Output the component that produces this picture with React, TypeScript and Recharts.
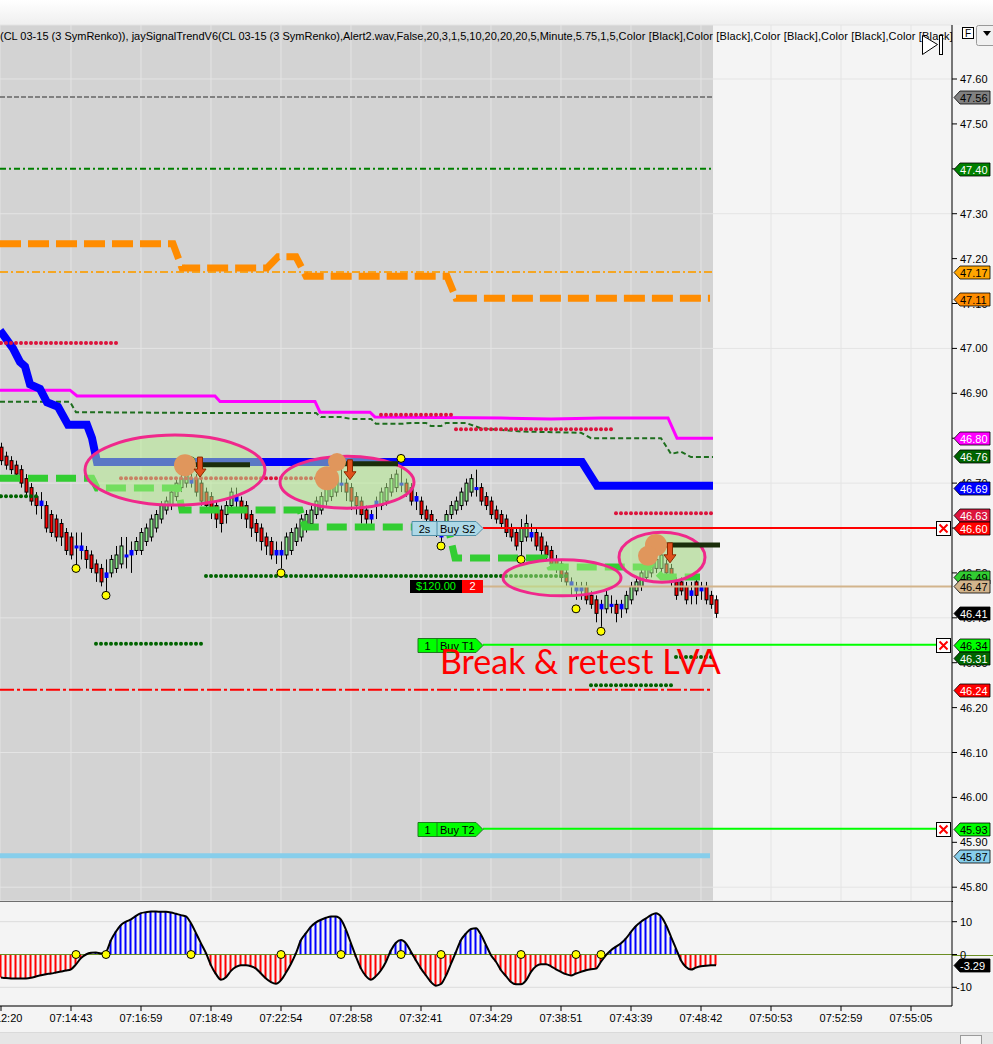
import React from "react";
import {
  Bar,
  CartesianGrid,
  Cell,
  ComposedChart,
  Line,
  ReferenceDot,
  ReferenceLine,
  Scatter,
  XAxis,
  YAxis,
} from "recharts";

const FONT = "'Liberation Sans', Arial, sans-serif";

const titleHead = "(CL 03-15 (3 SymRenko)), jaySignalTrendV6(CL 03-15 (3 SymRenko),Alert2.wav,False,20,3,1,5,10,20,20,20,5,Minute,5.75,1,5,";
const titleTail = "Color [Black],Color [Black],Color [Black],Color [Black],Color [Black],Color [Black])";

// renko bricks: [open, high, low, close]
const bricks: [number, number, number, number][] = [
  [46.78, 46.79, 46.74, 46.75], [46.76, 46.77, 46.73, 46.74], [46.75, 46.76, 46.72, 46.73], [46.74, 46.75, 46.71, 46.72],
  [46.73, 46.74, 46.69, 46.7], [46.71, 46.72, 46.67, 46.68], [46.69, 46.7, 46.65, 46.66], [46.67, 46.68, 46.63, 46.65],
  [46.66, 46.68, 46.62, 46.65], [46.65, 46.66, 46.59, 46.6], [46.63, 46.64, 46.58, 46.59], [46.62, 46.63, 46.57, 46.58],
  [46.61, 46.62, 46.56, 46.58], [46.59, 46.6, 46.54, 46.55], [46.58, 46.59, 46.53, 46.54], [46.56, 46.59, 46.51, 46.56],
  [46.56, 46.59, 46.53, 46.55], [46.55, 46.56, 46.51, 46.53], [46.54, 46.55, 46.5, 46.51], [46.52, 46.53, 46.48, 46.5],
  [46.51, 46.52, 46.47, 46.48], [46.5, 46.53, 46.46, 46.49], [46.5, 46.54, 46.49, 46.53], [46.51, 46.56, 46.5, 46.54],
  [46.52, 46.58, 46.51, 46.56], [46.54, 46.58, 46.51, 46.54], [46.55, 46.57, 46.5, 46.54], [46.55, 46.58, 46.54, 46.57],
  [46.55, 46.6, 46.54, 46.59], [46.57, 46.61, 46.56, 46.6], [46.58, 46.63, 46.57, 46.62], [46.6, 46.64, 46.59, 46.63],
  [46.62, 46.66, 46.61, 46.65], [46.64, 46.67, 46.63, 46.66], [46.65, 46.69, 46.64, 46.68], [46.67, 46.71, 46.66, 46.7],
  [46.69, 46.72, 46.68, 46.71], [46.7, 46.74, 46.69, 46.72], [46.71, 46.74, 46.69, 46.7], [46.71, 46.72, 46.67, 46.68],
  [46.7, 46.71, 46.65, 46.66], [46.68, 46.69, 46.64, 46.65], [46.67, 46.68, 46.62, 46.64], [46.65, 46.66, 46.6, 46.62],
  [46.64, 46.65, 46.59, 46.61], [46.63, 46.66, 46.61, 46.65], [46.65, 46.69, 46.64, 46.68], [46.67, 46.69, 46.64, 46.66],
  [46.66, 46.67, 46.62, 46.64], [46.65, 46.66, 46.6, 46.62], [46.63, 46.64, 46.58, 46.6], [46.61, 46.62, 46.57, 46.59],
  [46.6, 46.61, 46.55, 46.57], [46.58, 46.59, 46.54, 46.56], [46.57, 46.58, 46.53, 46.54], [46.55, 46.57, 46.52, 46.54],
  [46.55, 46.57, 46.51, 46.54], [46.54, 46.59, 46.53, 46.58], [46.55, 46.6, 46.54, 46.59], [46.57, 46.61, 46.56, 46.6],
  [46.58, 46.63, 46.57, 46.62], [46.6, 46.64, 46.59, 46.63], [46.61, 46.65, 46.6, 46.64], [46.63, 46.67, 46.62, 46.66],
  [46.64, 46.68, 46.63, 46.67], [46.66, 46.7, 46.65, 46.69], [46.67, 46.71, 46.66, 46.7], [46.68, 46.72, 46.67, 46.71],
  [46.7, 46.74, 46.68, 46.7], [46.7, 46.71, 46.66, 46.68], [46.69, 46.7, 46.64, 46.66], [46.67, 46.68, 46.63, 46.65],
  [46.66, 46.67, 46.61, 46.63], [46.64, 46.65, 46.6, 46.62], [46.63, 46.64, 46.6, 46.62], [46.66, 46.67, 46.62, 46.65],
  [46.65, 46.69, 46.64, 46.68], [46.66, 46.7, 46.65, 46.69], [46.68, 46.72, 46.67, 46.71], [46.69, 46.73, 46.68, 46.72],
  [46.7, 46.74, 46.68, 46.7], [46.7, 46.71, 46.67, 46.68], [46.69, 46.7, 46.65, 46.66], [46.67, 46.68, 46.64, 46.66],
  [46.66, 46.67, 46.62, 46.63], [46.64, 46.65, 46.61, 46.62], [46.63, 46.64, 46.59, 46.61], [46.61, 46.62, 46.58, 46.59],
  [46.59, 46.6, 46.57, 46.58], [46.61, 46.64, 46.6, 46.63], [46.63, 46.66, 46.62, 46.65], [46.64, 46.67, 46.63, 46.66],
  [46.65, 46.69, 46.64, 46.68], [46.66, 46.71, 46.65, 46.7], [46.68, 46.72, 46.67, 46.71], [46.69, 46.73, 46.67, 46.69],
  [46.69, 46.7, 46.65, 46.66], [46.67, 46.68, 46.64, 46.65], [46.66, 46.67, 46.62, 46.63], [46.64, 46.65, 46.61, 46.62],
  [46.63, 46.64, 46.6, 46.61], [46.62, 46.63, 46.58, 46.59], [46.6, 46.61, 46.57, 46.58], [46.59, 46.6, 46.55, 46.56],
  [46.57, 46.62, 46.54, 46.6], [46.58, 46.63, 46.57, 46.61], [46.59, 46.61, 46.57, 46.58], [46.59, 46.6, 46.55, 46.56],
  [46.58, 46.59, 46.54, 46.55], [46.56, 46.57, 46.53, 46.54], [46.55, 46.56, 46.51, 46.52], [46.53, 46.54, 46.5, 46.51],
  [46.52, 46.53, 46.48, 46.49], [46.5, 46.51, 46.47, 46.48], [46.48, 46.49, 46.45, 46.47], [46.47, 46.48, 46.44, 46.46],
  [46.47, 46.48, 46.44, 46.46], [46.47, 46.48, 46.43, 46.44], [46.45, 46.46, 46.42, 46.43], [46.44, 46.45, 46.39, 46.41],
  [46.43, 46.44, 46.38, 46.42], [46.42, 46.46, 46.41, 46.45], [46.43, 46.45, 46.41, 46.43], [46.43, 46.44, 46.39, 46.41],
  [46.43, 46.44, 46.4, 46.42], [46.42, 46.46, 46.41, 46.45], [46.44, 46.48, 46.43, 46.47], [46.46, 46.49, 46.45, 46.48],
  [46.47, 46.51, 46.46, 46.5], [46.49, 46.52, 46.48, 46.51], [46.5, 46.53, 46.49, 46.52], [46.51, 46.54, 46.5, 46.53],
  [46.51, 46.55, 46.5, 46.54], [46.52, 46.53, 46.49, 46.5], [46.51, 46.52, 46.47, 46.48], [46.48, 46.49, 46.44, 46.45],
  [46.48, 46.49, 46.45, 46.46], [46.47, 46.48, 46.43, 46.44], [46.46, 46.48, 46.43, 46.45], [46.48, 46.49, 46.43, 46.45],
  [46.47, 46.48, 46.44, 46.46], [46.47, 46.48, 46.43, 46.44], [46.45, 46.46, 46.42, 46.43], [46.44, 46.45, 46.4, 46.41],
];

// lower pane oscillator, one value per brick
const oscillator = [
  -7.0, -7.2, -7.3, -7.3, -7.3, -7.3, -7.1, -6.7, -6.3, -6.0,
  -5.8, -5.5, -5.2, -4.9, -4.5, -3.0, -1.1, 0.0, 0.5, 0.6,
  0.3, 0.8, 4.4, 7.0, 9.0, 10.0, 10.7, 11.8, 12.6, 12.9,
  13.1, 13.1, 13.0, 13.0, 12.8, 12.4, 12.0, 11.6, 9.5, 6.5,
  3.4, 0.4, -3.3, -6.0, -7.7, -6.9, -5.0, -3.8, -3.3, -3.3,
  -3.6, -4.3, -5.8, -7.3, -8.4, -8.9, -7.8, -5.5, -2.8, 0.4,
  4.4, 6.5, 8.5, 9.8, 10.6, 11.2, 11.6, 11.6, 10.6, 7.5,
  3.4, -0.7, -4.3, -6.6, -7.7, -6.6, -4.8, -2.2, 1.3, 3.6,
  4.4, 3.4, 0.8, -1.8, -4.3, -6.4, -8.4, -9.5, -9.0, -6.4,
  -2.8, 0.8, 4.4, 6.4, 7.8, 8.0, 6.0, 2.9, -0.2, -2.2,
  -4.8, -6.6, -8.4, -9.1, -9.1, -7.9, -5.3, -3.6, -3.0, -3.0,
  -3.6, -4.5, -5.3, -6.0, -6.4, -5.8, -5.3, -4.8, -4.5, -4.3,
  -2.2, -0.2, 1.3, 2.4, 3.4, 4.9, 6.9, 8.7, 10.0, 11.0,
  12.0, 12.6, 11.6, 9.0, 5.4, 1.8, -1.8, -3.8, -4.6, -4.0,
  -3.6, -3.4, -3.3, -3.29,
];

// swing markers (brick index / price)
const swingBars = [15, 21, 38, 56, 68, 80, 88, 104, 115, 120];
const swingPrices = [46.51, 46.45, 46.75, 46.5, 46.75, 46.755, 46.56, 46.53, 46.42, 46.37];

// time axis
const timeTicks = [0, 14, 28, 42, 56, 70, 84, 98, 112, 126, 140, 154, 168, 182];
const timeLabels = [
  "07:12:20", "07:14:43", "07:16:59", "07:18:49", "07:22:54", "07:28:58", "07:32:41",
  "07:34:29", "07:38:51", "07:43:39", "07:48:42", "07:50:53", "07:52:59", "07:55:05",
];

const priceTicks = [45.8, 45.9, 46.0, 46.1, 46.2, 46.3, 46.4, 46.5, 46.6, 46.7, 46.8, 46.9, 47.0, 47.1, 47.2, 47.3, 47.4, 47.5, 47.6];
const priceGrid = [45.8, 46.1, 46.4, 46.7, 47.0, 47.3, 47.6];
const oscTicks = [-10, 0, 10];

// indicator step lines, vertices as [brick, price]
const blueTrend: [number, number][] = [
  [-0.2, 47.04], [2.4, 47.0], [3.8, 46.97], [4.8, 46.96], [5.8, 46.92], [7.8, 46.91], [9.2, 46.88],
  [11.4, 46.87], [13.4, 46.83], [17.2, 46.83], [18.2, 46.8], [19.2, 46.747], [116.2, 46.747],
  [119.2, 46.694], [142.4, 46.694],
];
const magentaBand: [number, number][] = [
  [-0.2, 46.907], [13.8, 46.907], [15.2, 46.894], [42.8, 46.894], [43.8, 46.882], [62.8, 46.882],
  [63.8, 46.858], [73.8, 46.858], [74.8, 46.847], [100, 46.845], [110, 46.843], [120, 46.845],
  [133.4, 46.845], [135.2, 46.8], [142.4, 46.8],
];
const greenBand: [number, number][] = [
  [-0.2, 46.881], [13.8, 46.881], [15, 46.858], [43, 46.856], [63, 46.856], [64, 46.847], [68, 46.847],
  [70, 46.843], [74, 46.843], [75, 46.832], [80, 46.832], [82, 46.834], [85, 46.834], [86, 46.827],
  [88, 46.827], [89, 46.834], [93, 46.834], [96, 46.822], [104, 46.815], [116, 46.812], [118, 46.8],
  [132, 46.8], [134, 46.765], [136, 46.77], [138, 46.758], [142.4, 46.758],
];
const orangeStop: [number, number][] = [
  [-0.2, 47.233], [34.4, 47.233], [36.2, 47.179], [53.2, 47.179], [55.4, 47.204], [59, 47.204],
  [61, 47.161], [89.2, 47.161], [91, 47.112], [141.8, 47.112],
];
const limeStop: [number, number][] = [
  [-0.2, 46.711], [18.2, 46.711], [19.2, 46.689], [35.4, 46.689], [36.2, 46.64], [59.8, 46.64],
  [60.8, 46.602], [89.4, 46.602], [90.8, 46.533], [108.8, 46.533], [109.8, 46.513], [130.2, 46.513],
  [132.2, 46.491], [139.8, 46.491],
];

// dotted pivots: [first brick, last brick, price]
const redDotRuns: [number, number, number][] = [
  [0, 23, 47.012], [24, 67, 46.711], [76, 90, 46.852], [91, 122, 46.82], [123, 142, 46.633],
];
const greenDotRuns: [number, number, number][] = [
  [0, 7, 46.671], [19, 40, 46.342], [41, 113, 46.493], [118, 134, 46.25], [135, 142, 46.313],
];

// price levels on the right scale
const flagPrices = [47.56, 47.4, 47.17, 47.11, 46.8, 46.76, 46.69, 46.63, 46.6, 46.49, 46.47, 46.41, 46.34, 46.31, 46.24, 45.93, 45.87];
const lastOsc = -3.29;

// orders / position
const stopPrice = 46.6;
const entryPrice = 46.47;
const target1 = 46.34;
const target2 = 45.93;

const PRICE_DOMAIN: [number, number] = [45.7693, 47.7203];
const OSC_DOMAIN: [number, number] = [-15.7, 16.31];
const BAR_DOMAIN: [number, number] = [-0.2, 190.2];

const rows = bricks.map(([o, h, l, c], i) => ({ i, o, h, l, c, osc: oscillator[i] }));
const pts = (v: [number, number][]) => v.map(([i, p]) => ({ i, p }));
const flat = (a: number, b: number, p: number) => [{ i: a, p }, { i: b, p }];
const runs = (r: [number, number, number][]) =>
  r.flatMap(([a, b, p]) => Array.from({ length: b - a + 1 }, (_, k) => ({ i: a + k, p })));
const swings = swingBars.map((i, k) => ({ i, p: swingPrices[k], v: 0 }));

const flagStyles: Record<string, [string, string, boolean?]> = {
  "47.56": ["#808080", "#000"],
  "47.40": ["#008000", "#fff"],
  "47.17": ["#ffa500", "#000"],
  "47.11": ["#ff8c00", "#000"],
  "46.80": ["#ff00ff", "#fff"],
  "46.76": ["#006400", "#fff"],
  "46.69": ["#0000ff", "#fff"],
  "46.63": ["#dc143c", "#fff"],
  "46.60": ["#ff0000", "#fff", true],
  "46.49": ["#32cd32", "#000"],
  "46.47": ["#d2b48c", "#000"],
  "46.41": ["#000000", "#fff"],
  "46.34": ["#00ff00", "#000", true],
  "46.31": ["#006400", "#fff"],
  "46.24": ["#ff0000", "#fff"],
  "45.93": ["#00ff00", "#000", true],
  "45.87": ["#87ceeb", "#000"],
};

function Candle(props: any) {
  const { x, y, width, height, payload } = props;
  if (!payload || height == null) return null;
  const { o, h, l, c } = payload;
  const top = Math.min(y, y + height);
  const span = Math.abs(height);
  const at = (v: number) => top + ((h - v) / (h - l)) * span;
  const cx = Math.round(x + width / 2) + 0.5;
  const doji = Math.abs(c - o) < 0.015;
  const fill = doji ? "#0000ff" : c > o ? "#90ee90" : "#ff0000";
  const yo = at(o);
  const yc = at(c);
  return (
    <g>
      <line x1={cx} x2={cx} y1={top} y2={top + span} stroke="#000" strokeWidth={1} />
      <rect
        x={cx - 1.5}
        y={Math.min(yo, yc)}
        width={3}
        height={Math.max(Math.abs(yc - yo), 2)}
        fill={fill}
        stroke={doji ? "#0000ff" : "#000"}
        strokeWidth={1}
      />
    </g>
  );
}

function PriceFlag(props: any) {
  const { viewBox, text, bg, fg, cross } = props;
  if (!viewBox) return null;
  const right = viewBox.x + viewBox.width;
  const y = Math.round(viewBox.y) + 0.5;
  const x0 = right + 2;
  return (
    <g>
      {cross && (
        <g>
          <rect x={right - 15.5} y={y - 7} width={14} height={14} fill="#fff" stroke="#000" />
          <path
            d={`M${right - 12.5},${y - 4} L${right - 4.5},${y + 4} M${right - 4.5},${y - 4} L${right - 12.5},${y + 4}`}
            stroke="#ff0000"
            strokeWidth={2}
          />
        </g>
      )}
      <path
        d={`M${x0},${y} L${x0 + 6},${y - 6.5} L${x0 + 36},${y - 6.5} L${x0 + 36},${y + 6.5} L${x0 + 6},${y + 6.5} Z`}
        fill={bg}
        stroke="#000"
        strokeWidth={0.8}
      />
      <text x={x0 + 6} y={y + 4} fontSize={11} fontFamily={FONT} fill={fg}>
        {text}
      </text>
    </g>
  );
}

function ZeroExtension(props: any) {
  const { viewBox } = props;
  if (!viewBox) return null;
  const y = Math.round(viewBox.y) + 0.5;
  return <line x1={viewBox.x + viewBox.width} x2={993} y1={y} y2={y} stroke="#6b8e23" />;
}

const PriceTick = (p: any) => (
  <text x={p.x + 1} y={p.y + 4} fontSize={11} fontFamily={FONT} fill="#000">
    {Number(p.payload.value).toFixed(2)}
  </text>
);

const OscTick = (p: any) => (
  <text x={p.payload.value < 0 ? p.x - 3 : p.x + 1} y={p.y + 4} fontSize={11} fontFamily={FONT} fill="#000">
    {p.payload.value}
  </text>
);

const dotShape = (color: string, r = 2) => (p: any) =>
  p.cx == null ? null : <circle cx={p.cx} cy={p.cy} r={r} fill={color} />;

const yellowShape = (p: any) =>
  p.cx == null ? null : <circle cx={p.cx} cy={p.cy} r={4} fill="#ffff00" stroke="#000" strokeWidth={1} />;

// chart drawings anchored on brick / price
const zones = [
  { i: 34.8, p: 46.729, rx: 90, ry: 35 },
  { i: 69.2, p: 46.702, rx: 67, ry: 26 },
  { i: 112.2, p: 46.489, rx: 59, ry: 18 },
  { i: 132.2, p: 46.535, rx: 43, ry: 25 },
];
const blobs = [
  { i: 36.8, p: 46.74, r: 11 },
  { i: 65.2, p: 46.711, r: 12 },
  { i: 67.2, p: 46.747, r: 9 },
  { i: 131, p: 46.562, r: 11 },
  { i: 129.4, p: 46.538, r: 10 },
];
const shelves: [number, number, number][] = [
  [37.8, 49.8, 46.741],
  [67.8, 79.4, 46.743],
  [131.8, 143.8, 46.562],
];
const arrows = [
  { i: 39.8, p: 46.758 },
  { i: 69.8, p: 46.752 },
  { i: 133.8, p: 46.567 },
];
const tagAnchor = 96.4;
const lineEnd = 187.2;

function OrderTag(props: any) {
  const { cx, cy, left, qty, name, bg, border } = props;
  if (cx == null) return null;
  const y = Math.round(cy) + 0.5;
  const x = Math.round(cx);
  const split = x - 46;
  return (
    <g fontFamily={FONT} fontSize={11}>
      <path
        d={`M${x - left},${y - 7} L${x - 7},${y - 7} L${x},${y} L${x - 7},${y + 7} L${x - left},${y + 7} Z`}
        fill={bg}
        stroke={border}
      />
      <line x1={split} x2={split} y1={y - 7} y2={y + 7} stroke={border} />
      <text x={(x - left + split) / 2} y={y + 4} textAnchor="middle" fill="#000">
        {qty}
      </text>
      <text x={split + 3} y={y + 4} fill="#000">
        {name}
      </text>
    </g>
  );
}

function PnlTag(props: any) {
  const { cx, cy } = props;
  if (cx == null) return null;
  const y = Math.round(cy);
  const x = Math.round(cx);
  return (
    <g fontFamily={FONT} fontSize={11}>
      <rect x={x - 73} y={y - 6} width={52} height={13} fill="#000" />
      <rect x={x - 21} y={y - 6} width={21} height={13} fill="#ff0000" />
      <text x={x - 47} y={y + 4} textAnchor="middle" fill="#00ff00">
        $120.00
      </text>
      <text x={x - 10.5} y={y + 4} textAnchor="middle" fill="#fff">
        2
      </text>
    </g>
  );
}

function MainChart() {
  return (
    <ComposedChart width={993} height={902} data={rows} margin={{ top: 25, right: 0, bottom: 1, left: 0 }}>
      <CartesianGrid stroke="#e4e4e4" strokeWidth={1} />
      <XAxis dataKey="i" type="number" domain={BAR_DOMAIN} ticks={timeTicks} allowDataOverflow hide />
      <YAxis type="number" domain={PRICE_DOMAIN} ticks={priceGrid} allowDataOverflow hide />
      <YAxis
        yAxisId="lbl"
        orientation="right"
        type="number"
        width={41}
        domain={PRICE_DOMAIN}
        ticks={priceTicks}
        interval={0}
        allowDataOverflow
        tickSize={5}
        axisLine={{ stroke: "#000" }}
        tickLine={{ stroke: "#000" }}
        tick={PriceTick}
      />

      <Line data={flat(-0.2, 142.4, 47.56)} dataKey="p" stroke="#808080" strokeWidth={2} strokeDasharray="5 2" dot={false} isAnimationActive={false} />
      <Line data={flat(-0.2, 142.4, 47.4)} dataKey="p" stroke="#008000" strokeWidth={2} strokeDasharray="6 3 2 3" dot={false} isAnimationActive={false} />
      <Line data={flat(-0.2, 142.4, 47.17)} dataKey="p" stroke="#f5a623" strokeWidth={2} strokeDasharray="8 3 2 3" dot={false} isAnimationActive={false} />
      <Line data={flat(-0.2, 142.4, 46.24)} dataKey="p" stroke="#ff0000" strokeWidth={2} strokeDasharray="14 3 3 3" dot={false} isAnimationActive={false} />
      <Line data={flat(-0.2, 141.8, 45.87)} dataKey="p" stroke="#87ceeb" strokeWidth={5} dot={false} isAnimationActive={false} />

      <Scatter data={runs(redDotRuns)} dataKey="p" shape={dotShape("#dc143c")} isAnimationActive={false} />
      <Scatter data={runs(greenDotRuns)} dataKey="p" shape={dotShape("#006400")} isAnimationActive={false} />

      <Line data={pts(orangeStop)} dataKey="p" stroke="#ff8c00" strokeWidth={7} strokeDasharray="21 7" dot={false} isAnimationActive={false} />
      <Line data={pts(greenBand)} dataKey="p" stroke="#1e6e1e" strokeWidth={2} strokeDasharray="5 3" dot={false} isAnimationActive={false} />
      <Line data={pts(magentaBand)} dataKey="p" stroke="#ff00ff" strokeWidth={3} dot={false} isAnimationActive={false} />
      <Line data={pts(blueTrend)} dataKey="p" stroke="#0000ff" strokeWidth={8} dot={false} isAnimationActive={false} />
      <Line data={pts(limeStop)} dataKey="p" stroke="#32cd32" strokeWidth={7} strokeDasharray="20 8" dot={false} isAnimationActive={false} />

      <Line data={flat(tagAnchor, 190.2, entryPrice)} dataKey="p" stroke="#d2b48c" strokeWidth={2} dot={false} isAnimationActive={false} />
      <Line data={flat(tagAnchor, lineEnd, stopPrice)} dataKey="p" stroke="#ff0000" strokeWidth={2} dot={false} isAnimationActive={false} />
      <Line data={flat(tagAnchor, lineEnd, target1)} dataKey="p" stroke="#00ff00" strokeWidth={2} dot={false} isAnimationActive={false} />
      <Line data={flat(tagAnchor, lineEnd, target2)} dataKey="p" stroke="#00ff00" strokeWidth={2} dot={false} isAnimationActive={false} />

      <Bar dataKey={(d: any) => [d.l, d.h]} barSize={4} shape={Candle} isAnimationActive={false} />
      <Scatter data={swings} dataKey="p" shape={yellowShape} isAnimationActive={false} />

      {zones.map((z, k) => (
        <ReferenceDot
          key={`z${k}`}
          x={z.i}
          y={z.p}
          r={1}
          shape={(p: any) => (
            <ellipse cx={p.cx} cy={p.cy} rx={z.rx} ry={z.ry} fill="#b4f08c" fillOpacity={0.5} stroke="#f0288c" strokeWidth={3} />
          )}
        />
      ))}

      <ReferenceDot x={tagAnchor} y={stopPrice} r={1} shape={(p: any) => <OrderTag {...p} left={71} qty="2s" name="Buy S2" bg="#add8e6" border="#4f8fa8" />} />
      <ReferenceDot x={tagAnchor} y={entryPrice} r={1} shape={(p: any) => <PnlTag {...p} />} />
      <ReferenceDot x={tagAnchor} y={target1} r={1} shape={(p: any) => <OrderTag {...p} left={65} qty="1" name="Buy T1" bg="#00ff00" border="#1f7a1f" />} />
      <ReferenceDot x={tagAnchor} y={target2} r={1} shape={(p: any) => <OrderTag {...p} left={65} qty="1" name="Buy T2" bg="#00ff00" border="#1f7a1f" />} />

      <ReferenceDot
        x={87.8}
        y={46.275}
        r={1}
        shape={(p: any) => (
          <text x={p.cx} y={p.cy} fontSize={34} fontFamily="Lato, 'Open Sans', sans-serif" fill="#ff0000">
            Break &amp; retest LVA
          </text>
        )}
      />
    </ComposedChart>
  );
}

// drawn on top of the price pane: drawing tools and the price flags on the scale
function OverlayChart() {
  return (
    <ComposedChart width={993} height={902} data={[]} margin={{ top: 25, right: 41, bottom: 1, left: 0 }}>
      <XAxis dataKey="i" type="number" domain={BAR_DOMAIN} allowDataOverflow hide />
      <YAxis type="number" domain={PRICE_DOMAIN} allowDataOverflow hide />
      {blobs.map((b, k) => (
        <ReferenceDot
          key={`b${k}`}
          x={b.i}
          y={b.p}
          r={b.r}
          shape={(p: any) => <circle cx={p.cx} cy={p.cy} r={b.r} fill="#e0965c" />}
        />
      ))}
      {shelves.map(([a, b, p], k) => (
        <ReferenceLine
          key={`s${k}`}
          segment={[{ x: a, y: p }, { x: b, y: p }]}
          stroke="#1b2e0b"
          strokeWidth={5}
          ifOverflow="visible"
        />
      ))}
      {arrows.map((a, k) => (
        <ReferenceDot
          key={`a${k}`}
          x={a.i}
          y={a.p}
          r={1}
          shape={(p: any) => (
            <path
              d={`M${p.cx - 2.5},${p.cy} L${p.cx + 2.5},${p.cy} L${p.cx + 2.5},${p.cy + 12} L${p.cx + 6},${p.cy + 12} L${p.cx},${p.cy + 20} L${p.cx - 6},${p.cy + 12} L${p.cx - 2.5},${p.cy + 12} Z`}
              fill="#e0501c"
              stroke="#8b2a00"
              strokeWidth={1}
            />
          )}
        />
      ))}
      {flagPrices.map((fp) => {
        const key = fp.toFixed(2);
        const [bg, fg, cross] = flagStyles[key];
        return (
          <ReferenceLine
            key={key}
            y={fp}
            stroke="transparent"
            ifOverflow="visible"
            label={<PriceFlag text={key} bg={bg} fg={fg} cross={cross} />}
          />
        );
      })}
    </ComposedChart>
  );
}

function OscChart() {
  return (
    <ComposedChart width={993} height={131} data={rows} margin={{ top: 0, right: 0, bottom: 0, left: 0 }}>
      <CartesianGrid vertical={false} stroke="#dcdcdc" />
      <XAxis
        dataKey="i"
        type="number"
        domain={BAR_DOMAIN}
        ticks={timeTicks}
        interval={0}
        allowDataOverflow
        height={26}
        tickSize={5}
        tickMargin={3}
        axisLine={{ stroke: "#000" }}
        tickLine={{ stroke: "#000" }}
        tick={{ fontSize: 11, fill: "#000", fontFamily: FONT }}
        tickFormatter={(v: number) => timeLabels[timeTicks.indexOf(v)] ?? ""}
      />
      <YAxis
        orientation="right"
        type="number"
        width={41}
        domain={OSC_DOMAIN}
        ticks={oscTicks}
        interval={0}
        allowDataOverflow
        tickSize={5}
        axisLine={{ stroke: "#000" }}
        tickLine={{ stroke: "#000" }}
        tick={OscTick}
      />
      <ReferenceLine y={0} stroke="#6b8e23" label={<ZeroExtension />} />
      <Bar dataKey="osc" barSize={2} isAnimationActive={false}>
        {rows.map((r) => (
          <Cell key={r.i} fill={r.osc >= 0 ? "#0000ff" : "#ff0000"} />
        ))}
      </Bar>
      <Line dataKey="osc" type="monotone" stroke="#000" strokeWidth={2} dot={false} isAnimationActive={false} />
      <Scatter data={swings} dataKey="v" shape={yellowShape} isAnimationActive={false} />
    </ComposedChart>
  );
}

function OscFlagChart() {
  return (
    <ComposedChart width={993} height={131} data={[]} margin={{ top: 0, right: 41, bottom: 26, left: 0 }}>
      <XAxis dataKey="i" type="number" domain={BAR_DOMAIN} allowDataOverflow hide />
      <YAxis type="number" domain={OSC_DOMAIN} allowDataOverflow hide />
      <ReferenceLine
        y={lastOsc}
        stroke="transparent"
        ifOverflow="visible"
        label={<PriceFlag text={lastOsc.toFixed(2)} bg="#000" fg="#fff" />}
      />
    </ComposedChart>
  );
}

export default function App() {
  return (
    <div
      style={{
        position: "absolute",
        left: 0,
        top: 0,
        width: 993,
        height: 1044,
        background: "#f4f4f4",
        overflow: "hidden",
        fontFamily: FONT,
      }}
    >
      <div style={{ position: "absolute", left: 0, top: 0, width: 993, height: 25, background: "linear-gradient(#ffffff, #efefef)" }} />
      <div style={{ position: "absolute", left: 0, top: 25, width: 713, height: 876, background: "#d3d3d3" }} />
      <div style={{ position: "absolute", left: 0, top: 0 }}>
        <MainChart />
      </div>
      <div style={{ position: "absolute", left: 0, top: 0 }}>
        <OverlayChart />
      </div>
      <div
        style={{
          position: "absolute",
          left: 0,
          top: 30,
          width: 952,
          overflow: "hidden",
          whiteSpace: "nowrap",
          fontSize: 11,
          lineHeight: "13px",
          color: "#000",
        }}
      >
        {titleHead}
        <span style={{ letterSpacing: "0.15px" }}>{titleTail}</span>
      </div>
      <svg style={{ position: "absolute", left: 0, top: 0 }} width={993} height={60}>
        <path d="M922.5,35.5 L937.5,44.5 L922.5,54.5 Z" fill="#fff" stroke="#000" />
        <rect x={939.5} y={35.5} width={3} height={19} fill="#fff" stroke="#000" />
        <rect x={962.5} y={27.5} width={11} height={11} fill="#fff" stroke="#000" />
        <text x={965} y={37} fontSize={10} fontFamily={FONT}>
          F
        </text>
        <rect x={976.5} y={25.5} width={20} height={20} rx={2} fill="#f0f0f0" stroke="#999" />
        <path d="M983,31 L991,31 L987,36 Z" fill="#000" />
      </svg>
      <div style={{ position: "absolute", left: 0, top: 901, width: 953, height: 1, background: "#000" }} />
      <div style={{ position: "absolute", left: 0, top: 901 }}>
        <OscChart />
      </div>
      <div style={{ position: "absolute", left: 0, top: 901 }}>
        <OscFlagChart />
      </div>
      <div style={{ position: "absolute", left: 0, top: 1032, width: 993, height: 12, background: "#e6e6e6", borderTop: "1px solid #dadada" }} />
      <div style={{ position: "absolute", left: 960, top: 1035, width: 20, height: 9, background: "#f4f4f4", border: "1px solid #9a9a9a" }} />
    </div>
  );
}
